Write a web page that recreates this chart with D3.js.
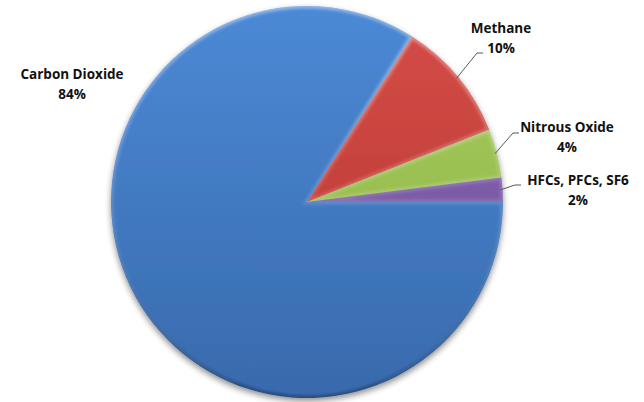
<!DOCTYPE html>
<html>
<head>
<meta charset="utf-8">
<script src="https://cdn.jsdelivr.net/npm/d3@7"></script>
<style>
  html, body { margin: 0; padding: 0; background: #ffffff; }
  svg { display: block; }
  text { font-family: "Open Sans", "Liberation Sans", sans-serif; font-weight: bold; font-size: 13.5px; fill: #111111; }
</style>
</head>
<body>
<svg id="chart" width="644" height="402"></svg>
<script>
// ---- data ----
const categories = ["Carbon Dioxide", "Methane", "Nitrous Oxide", "HFCs, PFCs, SF6"];
const values = [84, 10, 4, 2];
const percentLabels = ["84%", "10%", "4%", "2%"];

// ---- styles / layout (not data) ----
const colorsTop = ["#4c89d6", "#d44d48", "#a8cd5e", "#8c6cb8"];
const colorsBottom = ["#386aac", "#b6342f", "#8ab042", "#6a4994"];
const width = 644, height = 402;
const cx = 307, cy = 202, radius = 196;
// label text anchors [centerX, firstBaseline] and leader elbow offsets
const labelPos = [[72, 79], [501, 33], [567, 132], [578, 185]];
const leaderElbow = [null, [477, 53, 483], [513, 133, 519], [515, 185, 521]];

const svg = d3.select("#chart");
const defs = svg.append("defs");

const shadow = defs.append("filter").attr("id", "shadow")
  .attr("x", "-10%").attr("y", "-10%").attr("width", "120%").attr("height", "125%");
shadow.append("feGaussianBlur").attr("in", "SourceAlpha").attr("stdDeviation", 3).attr("result", "b");
shadow.append("feOffset").attr("in", "b").attr("dy", 3).attr("result", "o");
shadow.append("feComponentTransfer").attr("in", "o").attr("result", "s")
  .append("feFuncA").attr("type", "linear").attr("slope", 0.45);
const merge = shadow.append("feMerge");
merge.append("feMergeNode").attr("in", "s");
merge.append("feMergeNode").attr("in", "SourceGraphic");

const blur = defs.append("filter").attr("id", "soft");
blur.append("feGaussianBlur").attr("stdDeviation", 1.5);

categories.forEach((c, i) => {
  const g = defs.append("linearGradient").attr("id", "fill" + i)
    .attr("gradientUnits", "userSpaceOnUse")
    .attr("x1", 0).attr("y1", -radius).attr("x2", 0).attr("y2", radius);
  g.append("stop").attr("offset", 0).attr("stop-color", colorsTop[i]);
  g.append("stop").attr("offset", 1).attr("stop-color", colorsBottom[i]);
});
const rim = defs.append("linearGradient").attr("id", "rim")
  .attr("gradientUnits", "userSpaceOnUse")
  .attr("x1", 0).attr("y1", -radius).attr("x2", 0).attr("y2", radius);
rim.append("stop").attr("offset", 0).attr("stop-color", "#ffffff").attr("stop-opacity", 0.4);
rim.append("stop").attr("offset", 0.5).attr("stop-color", "#ffffff").attr("stop-opacity", 0.14);
rim.append("stop").attr("offset", 1).attr("stop-color", "#000000").attr("stop-opacity", 0.3);

const pie = d3.pie().value(d => d).sort(null)
  .startAngle(Math.PI / 2).endAngle(Math.PI / 2 + 2 * Math.PI);
const arcs = pie(values);
const arc = d3.arc().innerRadius(0).outerRadius(radius);

const gPie = svg.append("g").attr("transform", `translate(${cx},${cy})`);
const gShadow = gPie.append("g").attr("filter", "url(#shadow)");

arcs.forEach((a, i) => {
  defs.append("clipPath").attr("id", "clip" + i)
    .append("path").attr("d", arc(a));
});

gShadow.selectAll("path.slice").data(arcs).join("path")
  .attr("class", "slice")
  .attr("d", arc)
  .attr("fill", (d, i) => `url(#fill${i})`);

// bevel rims
gPie.selectAll("g.bevel").data(arcs).join("g")
  .attr("class", "bevel")
  .attr("clip-path", (d, i) => `url(#clip${i})`)
  .append("path")
  .attr("d", arc)
  .attr("fill", "none")
  .attr("stroke", "url(#rim)")
  .attr("stroke-width", 5)
  .attr("filter", "url(#soft)");

// leader lines
arcs.forEach((a, i) => {
  const e = leaderElbow[i];
  if (!e) return;
  const mid = (a.startAngle + a.endAngle) / 2;
  const sx = cx + Math.sin(mid) * (radius - 2);
  const sy = cy - Math.cos(mid) * (radius - 2);
  svg.append("path")
    .attr("d", d3.line()([[sx, sy], [e[0], e[1]], [e[2], e[1]]]))
    .attr("fill", "none")
    .attr("stroke", "#595959")
    .attr("stroke-width", 1);
});

// labels
categories.forEach((c, i) => {
  const t = svg.append("text").attr("text-anchor", "middle")
    .attr("x", labelPos[i][0]).attr("y", labelPos[i][1]);
  t.append("tspan").attr("x", labelPos[i][0]).text(c);
  t.append("tspan").attr("x", labelPos[i][0]).attr("dy", 20).text(percentLabels[i]);
});
</script>
</body>
</html>
